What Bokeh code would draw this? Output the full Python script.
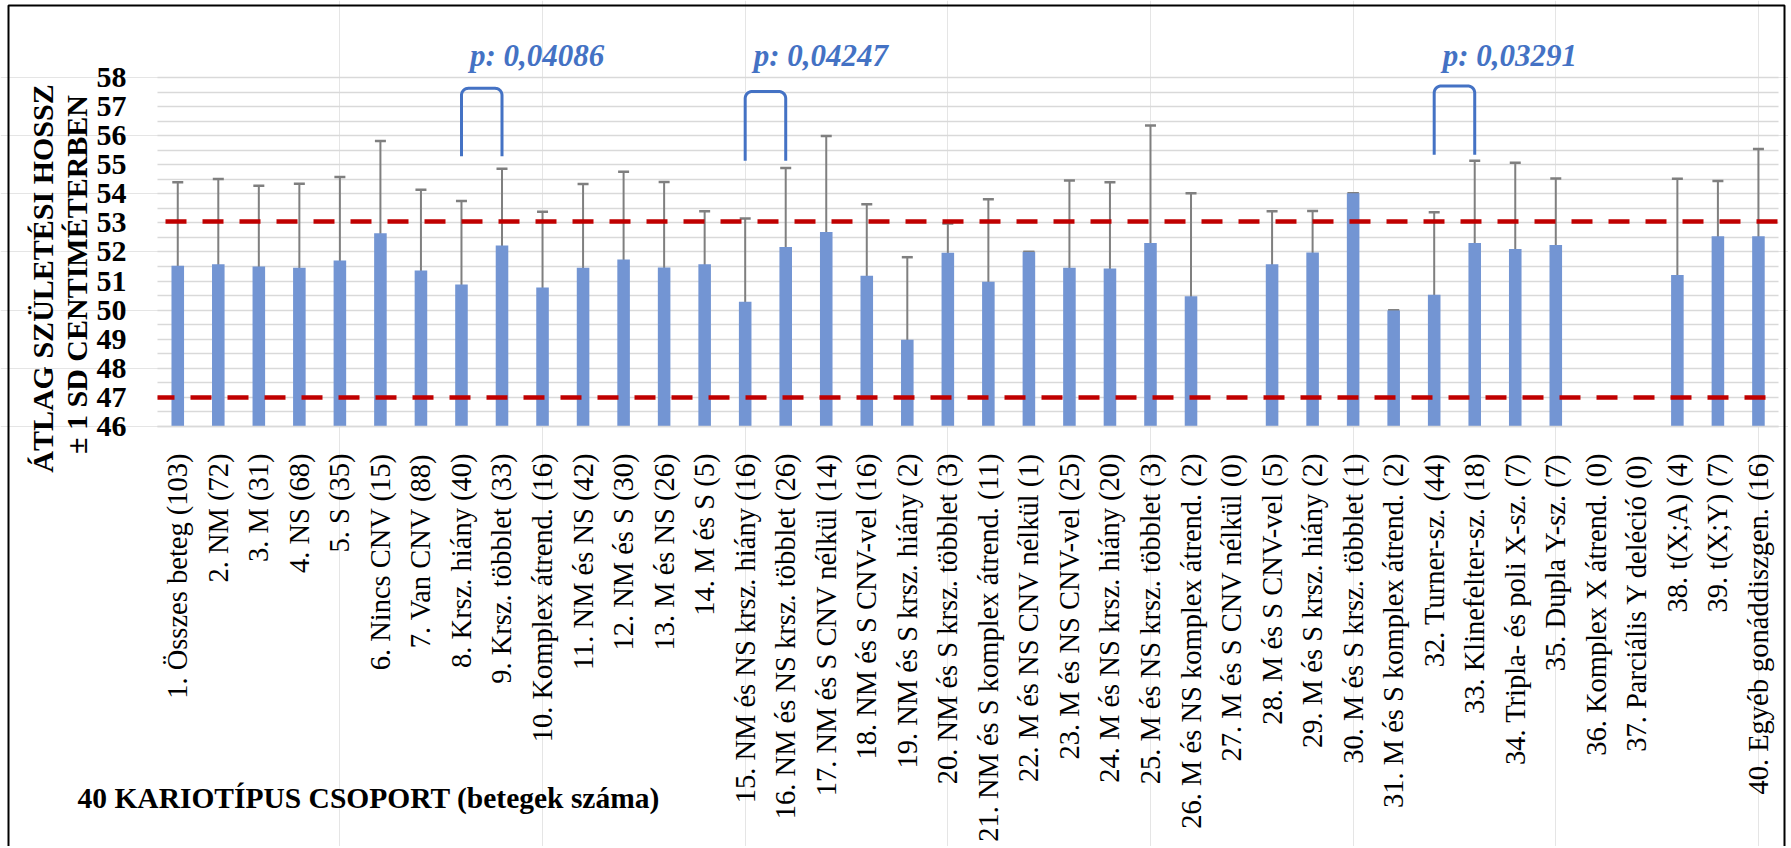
import math
from bokeh.plotting import figure
from bokeh.models import (ColumnDataSource, Range1d, FixedTicker, LinearAxis, Grid,
                          Label, Whisker, TeeHead)
from bokeh.embed import file_html
from bokeh.resources import INLINE

categories = [
    "1. Összes beteg (103)", "2. NM (72)", "3. M (31)", "4. NS (68)", "5. S (35)",
    "6. Nincs CNV (15)", "7. Van CNV (88)", "8. Krsz. hiány (40)", "9. Krsz. többlet (33)",
    "10. Komplex átrend. (16)", "11. NM és NS (42)", "12. NM és S (30)", "13. M és NS (26)",
    "14. M és S (5)", "15. NM és NS krsz. hiány (16)", "16. NM és NS krsz. többlet (26)",
    "17. NM és S CNV nélkül (14)", "18. NM és S CNV-vel (16)", "19. NM és S krsz. hiány (2)",
    "20. NM és S krsz. többlet (3)", "21. NM és S komplex átrend. (11)",
    "22. M és NS CNV nélkül (1)", "23. M és NS CNV-vel (25)", "24. M és NS krsz. hiány (20)",
    "25. M és NS krsz. többlet (3)", "26. M és NS komplex átrend. (2)",
    "27. M és S CNV nélkül (0)", "28. M és S CNV-vel (5)", "29. M és S krsz. hiány (2)",
    "30. M és S krsz. többlet (1)", "31. M és S komplex átrend. (2)", "32. Turner-sz. (44)",
    "33. Klinefelter-sz. (18)", "34. Tripla- és poli X-sz. (7)", "35. Dupla Y-sz. (7)",
    "36. Komplex X átrend. (0)", "37. Parciális Y deléció (0)", "38. t(X;A) (4)",
    "39. t(X;Y) (7)", "40. Egyéb gonáddiszgen. (16)",
]

means = [51.53, 51.58, 51.50, 51.46, 51.71, 52.64, 51.36, 50.88, 52.22, 50.78,
         51.46, 51.74, 51.47, 51.58, 50.29, 52.17, 52.69, 51.18, 48.98, 51.97,
         50.98, 52.00, 51.46, 51.43, 52.31, 50.48, 0.0, 51.58, 51.98, 54.02,
         49.99, 50.53, 52.31, 52.10, 52.24, 0.0, 0.0, 51.21, 52.54, 52.54]

sds = [2.87, 2.93, 2.78, 2.89, 2.87, 3.18, 2.78, 2.87, 2.64, 2.60,
       2.88, 3.02, 2.94, 1.82, 2.86, 2.72, 3.30, 2.46, 2.84, 1.01,
       2.83, 0.0, 3.00, 2.97, 4.04, 3.54, 0.0, 1.82, 1.43, 0.0,
       0.0, 2.84, 2.83, 2.97, 2.29, 0.0, 0.0, 3.31, 1.90, 3.00]

y_ticks = [46, 47, 48, 49, 50, 51, 52, 53, 54, 55, 56, 57, 58]

ref_low = 47.0
ref_high = 53.05

pair_left = [8, 15, 32]
pair_right = [9, 16, 33]
bracket_top = [57.63, 57.52, 57.71]
bracket_bottom = [55.29, 55.14, 55.34]
p_texts = ["p: 0,04086", "p: 0,04247", "p: 0,03291"]

y_title_lines = ["ÁTLAG SZÜLETÉSI HOSSZ", "± 1 SD CENTIMÉTERBEN"]
x_title = "40 KARIOTÍPUS CSOPORT (betegek száma)"

SERIF = "Liberation Serif"
BAR_COLOR = "#7395D3"
ERR_COLOR = "#7F7F7F"
RED = "#C00000"
BLUE = "#4472C4"
GRID = "#D9D9D9"

# ---- layout (pixels) ----
W, H = 1788, 846
PX_X = 40.53          # pixels per category
FRAME_LEFT = 157      # pixel position of left edge of category area
PX_Y = 29.08          # pixels per cm
TOP_58 = 77           # pixel position of the 58 gridline

n = len(categories)
xs_cat = list(range(1, n + 1))
x_start = 0.5 - FRAME_LEFT / PX_X
x_end = x_start + W / PX_X
y_end = y_ticks[-1] + TOP_58 / PX_Y
y_start = y_end - H / PX_Y

def px_to_x(px):
    return x_start + px / PX_X

def px_to_y(py):
    return y_end - py / PX_Y

p = figure(x_range=Range1d(x_start, x_end), y_range=Range1d(y_start, y_end),
           width=W, height=H, output_backend="svg", toolbar_location=None,
           x_axis_location=None, y_axis_location=None,
           min_border=0, min_border_left=0, min_border_right=0,
           min_border_top=0, min_border_bottom=0)
p.outline_line_color = None
p.background_fill_color = "white"
p.border_fill_color = "white"

# ---- grid ----
minor = [(a + b) / 2 for a, b in zip(y_ticks[:-1], y_ticks[1:])]
yticker = FixedTicker(ticks=y_ticks, minor_ticks=minor)
grid = Grid(dimension=1, ticker=yticker, grid_line_color=GRID, grid_line_width=1.5,
            minor_grid_line_color=GRID, minor_grid_line_width=1.5,
            bounds=(y_ticks[0], y_ticks[-1]))
try:
    grid.cross_bounds = (0.5, n + 0.5)
    p.add_layout(grid)
except Exception:
    p.segment(x0=0.5, x1=n + 0.5, y0=y_ticks + minor, y1=y_ticks + minor,
              line_color=GRID, line_width=1.5)

# ---- axes ----
yaxis = LinearAxis(ticker=yticker, fixed_location=0.5, bounds=(y_ticks[0], y_ticks[-1]),
                   axis_line_color=None, major_tick_line_color=None,
                   minor_tick_line_color=None, major_label_standoff=25,
                   major_label_text_font=SERIF, major_label_text_font_style="bold",
                   major_label_text_font_size="30px", major_label_text_color="black")
p.add_layout(yaxis, "left")

xaxis = LinearAxis(ticker=FixedTicker(ticks=xs_cat), fixed_location=y_ticks[0],
                   bounds=(0.5, n + 0.5),
                   major_label_overrides={i: c for i, c in zip(xs_cat, categories)},
                   axis_line_color=GRID, axis_line_width=1.5,
                   major_tick_line_color=None, minor_tick_line_color=None,
                   major_label_orientation=math.pi / 2, major_label_standoff=21,
                   major_label_text_font=SERIF, major_label_text_font_size="28.5px",
                   major_label_text_color="black")
p.add_layout(xaxis, "below")

# ---- bars ----
idx = [i for i, m in enumerate(means) if m > 0]
bar_src = ColumnDataSource(dict(
    x=[xs_cat[i] for i in idx],
    mean=[means[i] for i in idx],
    upper=[means[i] + sds[i] for i in idx],
    lower=[means[i] - sds[i] for i in idx],
))
p.vbar(x="x", top="mean", bottom=y_ticks[0], width=0.31, source=bar_src,
       fill_color=BAR_COLOR, line_color=None)

wh = Whisker(base="x", upper="upper", lower="lower", source=bar_src,
             line_color=ERR_COLOR, line_width=2,
             upper_head=TeeHead(size=11, line_color=ERR_COLOR, line_width=2.5),
             lower_head=TeeHead(size=11, line_color=ERR_COLOR, line_width=2.5))
p.add_layout(wh)

# ---- reference lines ----
for loc, off in ((ref_high, 29), (ref_low, 4)):
    p.segment(x0=0.5, x1=n + 0.5, y0=loc, y1=loc, line_color=RED, line_width=4.5,
              line_dash="21 16", line_dash_offset=off)

# ---- significance brackets (rounded top corners) ----
R_PX = 7
rx, ry = R_PX / PX_X, R_PX / PX_Y
steps = 8
bx = []
by = []
for l, r, t, b in zip(pair_left, pair_right, bracket_top, bracket_bottom):
    px_ = [l]
    py_ = [b]
    for k in range(steps + 1):
        a = math.pi - (math.pi / 2) * k / steps
        px_.append(l + rx + rx * math.cos(a))
        py_.append(t - ry + ry * math.sin(a))
    for k in range(steps + 1):
        a = math.pi / 2 - (math.pi / 2) * k / steps
        px_.append(r - rx + rx * math.cos(a))
        py_.append(t - ry + ry * math.sin(a))
    px_.append(r)
    py_.append(b)
    bx.append(px_)
    by.append(py_)
p.multi_line(xs=bx, ys=by, line_color=BLUE, line_width=3, line_join="round")

for l, txt in zip(pair_left, p_texts):
    p.add_layout(Label(x=l, y=px_to_y(55), text=txt, x_offset=8.5,
                       text_font=SERIF, text_font_style="bold italic",
                       text_font_size="31px", text_color=BLUE,
                       text_align="left", text_baseline="alphabetic"))

# ---- titles ----
for px, py, txt in ((42, 278, y_title_lines[0]), (76, 274, y_title_lines[1])):
    p.add_layout(Label(x=px_to_x(px), y=px_to_y(py), text=txt, angle=math.pi / 2,
                       text_font=SERIF, text_font_style="bold", text_font_size="30px",
                       text_color="black", text_align="center", text_baseline="middle"))

p.add_layout(Label(x=px_to_x(77), y=px_to_y(797), text=x_title, text_font=SERIF,
                   text_font_style="bold", text_font_size="29.5px", text_color="black",
                   text_align="left", text_baseline="alphabetic"))

# ---- chart border ----
bl, br, bt, bb = px_to_x(8), px_to_x(1784), px_to_y(5), px_to_y(H + 5)
p.line(x=[bl, bl, br, br], y=[bb, bt, bt, bb], line_color="black", line_width=2)

open("out.html", "w").write(file_html(p, INLINE))
